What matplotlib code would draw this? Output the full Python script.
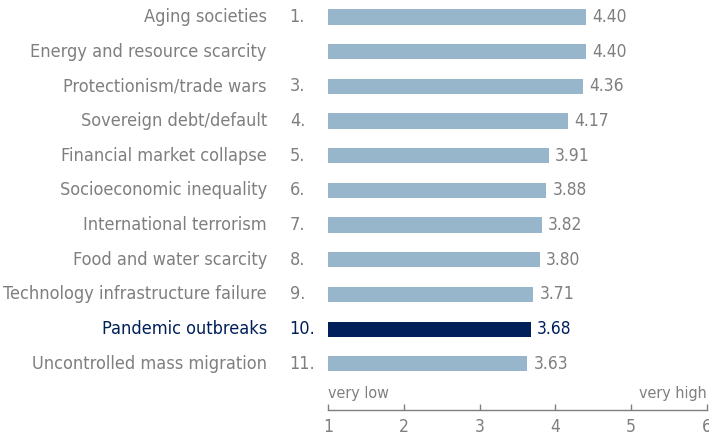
import matplotlib
matplotlib.use("Agg")
import matplotlib.pyplot as plt
from matplotlib import font_manager as fm
from matplotlib.transforms import blended_transform_factory

risks = [
    "Aging societies",
    "Energy and resource scarcity",
    "Protectionism/trade wars",
    "Sovereign debt/default",
    "Financial market collapse",
    "Socioeconomic inequality",
    "International terrorism",
    "Food and water scarcity",
    "Technology infrastructure failure",
    "Pandemic outbreaks",
    "Uncontrolled mass migration",
]
ranks = ["1.", "", "3.", "4.", "5.", "6.", "7.", "8.", "9.", "10.", "11."]
scores = [4.40, 4.40, 4.36, 4.17, 3.91, 3.88, 3.82, 3.80, 3.71, 3.68, 3.63]
highlight = "Pandemic outbreaks"
ticks = [1, 2, 3, 4, 5, 6]

LIGHT = "#97b6cc"
DARK = "#001f5b"
GREY = "#7f7f7f"


def narrow_font():
    """Pick a regular-weight condensed sans face from the installed fonts."""
    for fam in ("DejaVu Sans", "Liberation Sans Narrow"):
        for f in fm.fontManager.ttflist:
            if (f.name == fam and f.style == "normal" and f.weight in (400, "normal")
                    and f.stretch == "condensed"):
                return f.fname
    return None


path = narrow_font()


def fp(size):
    if path:
        return fm.FontProperties(fname=path, size=size)
    return fm.FontProperties(family="DejaVu Sans", stretch="condensed", size=size)


W, H = 709, 436
fig = plt.figure(figsize=(W / 100, H / 100), dpi=100)
x0, x1 = 328, 707
y_top, y_axis = 0, 410
ax = fig.add_axes([x0 / W, (H - y_axis) / H, (x1 - x0) / W, (y_axis - y_top) / H])

n = len(risks)
ypos = list(range(n))
colors = [DARK if r == highlight else LIGHT for r in risks]
ax.barh(ypos, [s - 1 for s in scores], left=1, height=0.44, color=colors,
        edgecolor="none")

ax.set_xlim(1, 6)
ax.set_ylim(n - 1 + 1.33, -0.49)

ylab = blended_transform_factory(ax.transAxes, ax.transData)
for i, (name, rk, s) in enumerate(zip(risks, ranks, scores)):
    c = DARK if name == highlight else GREY
    ax.text(-0.161, i, name, transform=ylab, ha="right", va="center",
            fontproperties=fp(13), color=c)
    ax.text(-0.101, i, rk, transform=ylab, ha="left", va="center",
            fontproperties=fp(13), color=c)
    ax.text(s + 0.08, i, f"{s:.2f}", ha="left", va="center",
            fontproperties=fp(12.5), color=c)

# scale end labels
ax.text(0, 0.041, "very low", transform=ax.transAxes, ha="left",
        va="center", fontproperties=fp(11.5), color=GREY)
ax.text(1, 0.041, "very high", transform=ax.transAxes, ha="right",
        va="center", fontproperties=fp(11.5), color=GREY)

for side in ["top", "right", "left"]:
    ax.spines[side].set_visible(False)
ax.spines["bottom"].set_color(GREY)
ax.spines["bottom"].set_linewidth(1.0)
ax.set_yticks([])
ax.set_xticks(ticks)
ax.tick_params(axis="x", direction="in", length=4, width=1.0, color=GREY,
               labelcolor=GREY, pad=6)
for lab in ax.get_xticklabels():
    lab.set_fontproperties(fp(12.5))

fig.savefig("out.png", dpi=100)
